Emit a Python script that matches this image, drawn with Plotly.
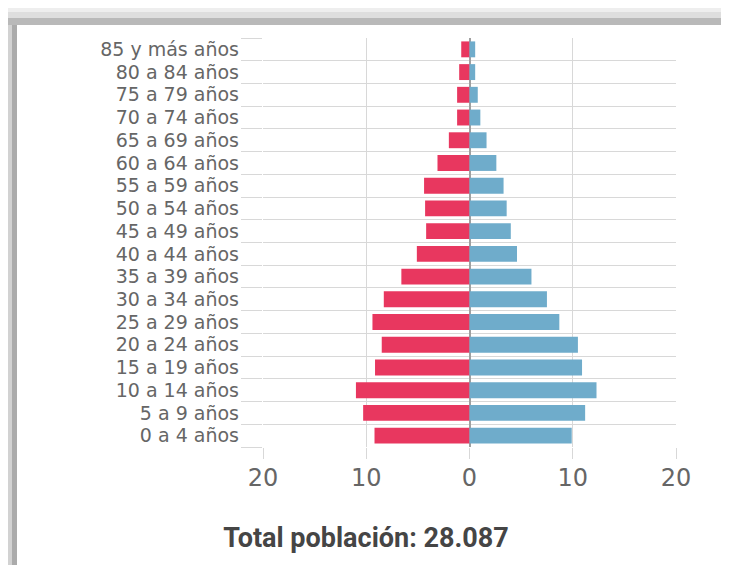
import plotly.graph_objects as go

# ---- data ----
age_groups = ["0 a 4 años", "5 a 9 años", "10 a 14 años", "15 a 19 años", "20 a 24 años",
              "25 a 29 años", "30 a 34 años", "35 a 39 años", "40 a 44 años", "45 a 49 años",
              "50 a 54 años", "55 a 59 años", "60 a 64 años", "65 a 69 años", "70 a 74 años",
              "75 a 79 años", "80 a 84 años", "85 y más años"]
left_values = [9.2, 10.3, 11.0, 9.15, 8.5, 9.4, 8.3, 6.6, 5.1, 4.2, 4.3, 4.4, 3.1, 2.0, 1.2, 1.2, 1.0, 0.8]
right_values = [9.9, 11.2, 12.3, 10.9, 10.5, 8.7, 7.5, 6.0, 4.6, 4.0, 3.6, 3.3, 2.6, 1.65, 1.05, 0.8, 0.55, 0.55]
x_tickvals = [-20, -10, 0, 10, 20]
x_ticktext = ["20", "10", "0", "10", "20"]
title_text = "Total población: 28.087"

PINK = "#E8375F"
BLUE = "#6FACCB"
GRID = "#d8d8d8"

OFF = 8                       # page body margin
W, H = 729 - OFF, 565 - OFF   # figure size
L, R, T, B = 255, 53, 30, 118
pw, ph = W - L - R, H - T - B

def px_x(p):   # page pixel -> paper x
    return (p - OFF - L) / pw

def px_y(p):   # page pixel -> paper y
    return (H - B - (p - OFF)) / ph

ypos = list(range(len(age_groups)))

fig = go.Figure()
fig.add_trace(go.Bar(y=ypos, x=[-v for v in left_values], orientation="h",
                     marker=dict(color=PINK, line=dict(width=0)), width=0.7,
                     hoverinfo="skip", showlegend=False))
fig.add_trace(go.Bar(y=ypos, x=right_values, orientation="h",
                     marker=dict(color=BLUE, line=dict(width=0)), width=0.7,
                     hoverinfo="skip", showlegend=False))

# frame shadow (decorative), page pixel coordinates
shapes = []
bands_top = [(0, 6, "#f8f8f8"), (6, 12, "#eeeeee"), (12, 18, "#dedede"), (18, 25, "#b9b9b9")]
for y0, y1, c in bands_top:
    shapes.append(dict(type="rect", xref="paper", yref="paper", x0=px_x(0), x1=px_x(740),
                       y0=px_y(y1), y1=px_y(y0), fillcolor=c, line=dict(width=0), layer="above"))
bands_left = [(0, 6, "#e8e8e8"), (6, 12, "#d2d2d2"), (12, 17, "#ababab")]
for x0, x1, c in bands_left:
    shapes.append(dict(type="rect", xref="paper", yref="paper", x0=px_x(x0), x1=px_x(x1),
                       y0=px_y(580), y1=px_y(25), fillcolor=c, line=dict(width=0), layer="above"))

fig.update_layout(
    width=W, height=H,
    margin=dict(l=L, r=R, t=T, b=B, pad=0),
    paper_bgcolor="white", plot_bgcolor="white",
    barmode="relative",
    shapes=shapes,
    title=dict(text=title_text, xref="container", yref="container", x=(366 - OFF) / W, xanchor="center",
               y=1 - (538 - OFF) / H, yanchor="middle",
               font=dict(family="Roboto", size=27, color="#454545", weight="bold")),
    xaxis=dict(range=[-20, 20], tickmode="array", tickvals=x_tickvals, ticktext=x_ticktext,
               showgrid=True, gridcolor=GRID, gridwidth=1,
               zeroline=True, zerolinecolor="#a0a0a0", zerolinewidth=2,
               ticks="outside", ticklen=11, tickcolor=GRID, tickwidth=1,
               ticklabelstandoff=-2,
               tickfont=dict(family="DejaVu Sans", size=24, color="#666666"),
               showline=False, fixedrange=True),
    yaxis=dict(range=[-0.5, len(age_groups) - 0.5], tickmode="array", tickvals=ypos, ticktext=age_groups,
               showgrid=False, zeroline=False, ticks="",
               ticklabelstandoff=23,
               tickfont=dict(family="DejaVu Sans", size=19, color="#666666"),
               minor=dict(tickmode="array", tickvals=[i - 0.5 for i in range(len(age_groups) + 1)],
                          showgrid=True, gridcolor=GRID, gridwidth=1,
                          ticks="outside", ticklen=21, tickcolor=GRID, tickwidth=1),
               showline=False, fixedrange=True),
)

fig.write_html("out.html")
